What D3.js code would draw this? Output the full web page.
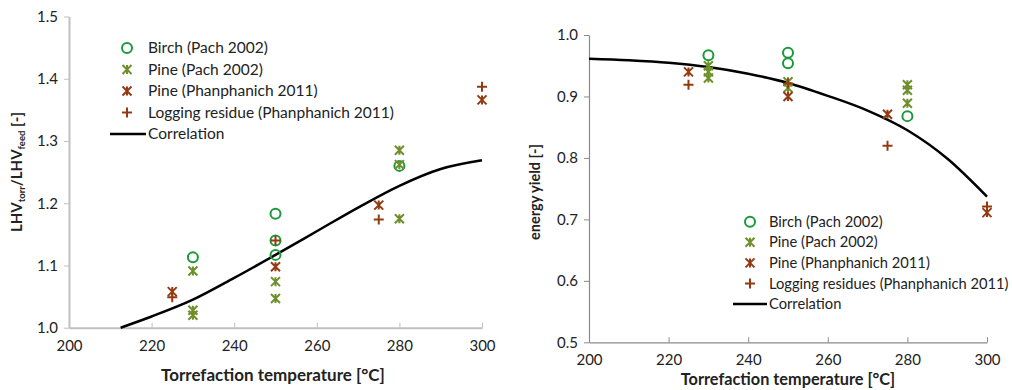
<!DOCTYPE html>
<html><head><meta charset="utf-8">
<script src="https://cdn.jsdelivr.net/npm/d3@7"></script>
<style>body{margin:0;background:#fff}svg{display:block}text{font-family:Lato,"Open Sans",sans-serif}</style>
</head><body><svg id="c" width="1012" height="390"></svg>
<script>
// ---- Left chart data (LHV ratio) ----
const lhvBirchT = [230, 250, 250, 250, 280];
const lhvBirchV = [1.113, 1.183, 1.14, 1.117, 1.26];
const lhvPinePachT = [230, 230, 230, 250, 250, 280, 280, 280];
const lhvPinePachV = [1.091, 1.028, 1.02, 1.074, 1.047, 1.285, 1.262, 1.175];
const lhvPinePhanT = [225, 250, 275, 300];
const lhvPinePhanV = [1.058, 1.098, 1.197, 1.366];
const lhvLogT = [225, 250, 275, 300];
const lhvLogV = [1.049, 1.14, 1.174, 1.387];
const lhvCorrT = [212.5, 220, 230, 240, 250, 260, 270, 280, 290, 300];
const lhvCorrV = [1.0, 1.018, 1.045, 1.08, 1.117, 1.155, 1.193, 1.228, 1.255, 1.269];
const lhvYTicks = [1.0, 1.1, 1.2, 1.3, 1.4, 1.5];
const xTicks = [200, 220, 240, 260, 280, 300];

// ---- Right chart data (energy yield) ----
const eyBirchT = [230, 250, 250, 280];
const eyBirchV = [0.967, 0.971, 0.954, 0.868];
const eyPinePachT = [230, 230, 230, 250, 250, 280, 280, 280];
const eyPinePachV = [0.95, 0.94, 0.93, 0.924, 0.914, 0.919, 0.91, 0.889];
const eyPinePhanT = [225, 250, 275, 300];
const eyPinePhanV = [0.94, 0.9, 0.871, 0.711];
const eyLogT = [225, 250, 275, 300];
const eyLogV = [0.919, 0.921, 0.82, 0.721];
const eyCorrT = [200, 210, 220, 230, 240, 250, 260, 270, 280, 290, 300];
const eyCorrV = [0.9615, 0.959, 0.955, 0.948, 0.937, 0.922, 0.901, 0.877, 0.845, 0.799, 0.737];
const eyYTicks = [0.5, 0.6, 0.7, 0.8, 0.9, 1.0];

const seriesNames = ["Birch (Pach 2002)", "Pine (Pach 2002)", "Pine (Phanphanich 2011)"];
const logNameL = "Logging residue (Phanphanich 2011)";
const logNameR = "Logging residues (Phanphanich 2011)";
const corrName = "Correlation";

const GREEN = "#1a9a3c", OLIVE = "#6f8f2a", BROWN = "#943a12";
const svg = d3.select("#c");

function marker(g, type, x, y, color) {
  if (type === "circle") {
    g.append("circle").attr("cx", x).attr("cy", y).attr("r", 5).attr("fill", "none").attr("stroke", color).attr("stroke-width", 2);
  } else if (type === "star") {
    const s = 4.5;
    const p = `M${x-s},${y-s}L${x+s},${y+s}M${x-s},${y+s}L${x+s},${y-s}M${x},${y-s}L${x},${y+s}`;
    g.append("path").attr("d", p).attr("stroke", color).attr("stroke-width", 2).attr("fill", "none");
  } else {
    const s = 5;
    g.append("path").attr("d", `M${x-s},${y}L${x+s},${y}M${x},${y-s}L${x},${y+s}`).attr("stroke", color).attr("stroke-width", 2);
  }
}

function chart(cfg) {
  const x = d3.scaleLinear().domain([200, 300]).range(cfg.xr);
  const y = d3.scaleLinear().domain(cfg.yd).range(cfg.yr);
  const g = svg.append("g");
  // x axis
  const xa = g.append("g").attr("transform", `translate(0,${cfg.yr[0]})`)
    .call(d3.axisBottom(x).tickValues(xTicks).tickFormat(d3.format("d")).tickSizeInner(-5).tickSizeOuter(0).tickPadding(cfg.xPad));
  xa.select(".domain").attr("stroke", cfg.axisColor).attr("stroke-width", cfg.axisW);
  xa.selectAll(".tick line").attr("stroke", cfg.axisColor);
  xa.selectAll("text").attr("font-size", cfg.tickFs).attr("fill", "#222");
  // y axis
  const ya = g.append("g").attr("transform", `translate(${cfg.xr[0]},0)`)
    .call(d3.axisLeft(y).tickValues(cfg.yTicks).tickFormat(d3.format(".1f")).tickSizeInner(5).tickSizeOuter(0).tickPadding(6));
  ya.select(".domain").attr("stroke", cfg.axisColor).attr("stroke-width", cfg.axisW);
  ya.selectAll(".tick line").attr("stroke", cfg.axisColor);
  ya.selectAll("text").attr("font-size", cfg.tickFs).attr("fill", "#222");
  // correlation
  const line = d3.line().x(d => x(d[0])).y(d => y(d[1])).curve(d3.curveMonotoneX);
  g.append("path").datum(cfg.corr[0].map((t, i) => [t, cfg.corr[1][i]]))
    .attr("d", line).attr("fill", "none").attr("stroke", "#000").attr("stroke-width", 2.5);
  // points
  cfg.series.forEach(s => s.t.forEach((t, i) => marker(g, s.type, x(t), y(s.v[i]), s.color)));
  // legend
  const lg = g.append("g");
  cfg.series.forEach((s, i) => {
    const yy = cfg.leg.y + i * cfg.leg.dy;
    marker(lg, s.type, cfg.leg.mx, yy, s.color);
    lg.append("text").attr("x", cfg.leg.tx).attr("y", yy).attr("dy", "0.35em").attr("font-size", cfg.leg.fs).attr("fill", "#222").text(s.name);
  });
  const yc = cfg.leg.y + 4 * cfg.leg.dy;
  lg.append("line").attr("x1", cfg.leg.mx - 17).attr("x2", cfg.leg.tx - 2).attr("y1", yc).attr("y2", yc).attr("stroke", "#000").attr("stroke-width", 2.5);
  lg.append("text").attr("x", cfg.leg.tx).attr("y", yc).attr("dy", "0.35em").attr("font-size", cfg.leg.fs).attr("fill", "#222").text(corrName);
  // x title
  g.append("text").attr("x", cfg.xt[0]).attr("y", cfg.xt[1]).attr("text-anchor", "middle").attr("font-size", cfg.xt[2]).attr("font-weight", "bold").attr("fill", "#222").text("Torrefaction temperature [°C]");
  return g;
}

const left = chart({
  xr: [69, 482], yd: [1.0, 1.5], yr: [327.7, 16.5], yTicks: lhvYTicks, axisColor: "#c0c0c0", axisW: 2,
  tickFs: 15, xPad: 13,
  corr: [lhvCorrT, lhvCorrV],
  series: [
    {t: lhvBirchT, v: lhvBirchV, type: "circle", color: GREEN, name: seriesNames[0]},
    {t: lhvPinePachT, v: lhvPinePachV, type: "star", color: OLIVE, name: seriesNames[1]},
    {t: lhvPinePhanT, v: lhvPinePhanV, type: "star", color: BROWN, name: seriesNames[2]},
    {t: lhvLogT, v: lhvLogV, type: "plus", color: BROWN, name: logNameL}
  ],
  leg: {mx: 127, tx: 148, y: 48, dy: 21.5, fs: 15.5},
  xt: [273, 381, 17]
});
// left y title with subscripts
const lt = left.append("text").attr("transform", "translate(22,172) rotate(-90)").attr("text-anchor", "middle")
  .attr("font-size", 15).attr("font-weight", "bold").attr("fill", "#222");
lt.append("tspan").text("LHV");
lt.append("tspan").attr("font-size", 9.5).attr("dy", 3).text("torr");
lt.append("tspan").attr("dy", -3).text("/LHV");
lt.append("tspan").attr("font-size", 9.5).attr("dy", 3).text("feed");
lt.append("tspan").attr("dy", -3).text(" [-]");

const right = chart({
  xr: [589, 987], yd: [0.5, 1.0], yr: [342.3, 35], yTicks: eyYTicks, axisColor: "#8a8a8a", axisW: 1.2,
  tickFs: 15, xPad: 12,
  corr: [eyCorrT, eyCorrV],
  series: [
    {t: eyBirchT, v: eyBirchV, type: "circle", color: GREEN, name: seriesNames[0]},
    {t: eyPinePachT, v: eyPinePachV, type: "star", color: OLIVE, name: seriesNames[1]},
    {t: eyPinePhanT, v: eyPinePhanV, type: "star", color: BROWN, name: seriesNames[2]},
    {t: eyLogT, v: eyLogV, type: "plus", color: BROWN, name: logNameR}
  ],
  leg: {mx: 750, tx: 769, y: 221.7, dy: 20.6, fs: 14.7},
  xt: [788, 385, 16.3]
});
right.append("text").attr("transform", "translate(540,192) rotate(-90)").attr("text-anchor", "middle")
  .attr("font-size", 14.5).attr("font-weight", "bold").attr("fill", "#222").text("energy yield [-]");
</script></body></html>
